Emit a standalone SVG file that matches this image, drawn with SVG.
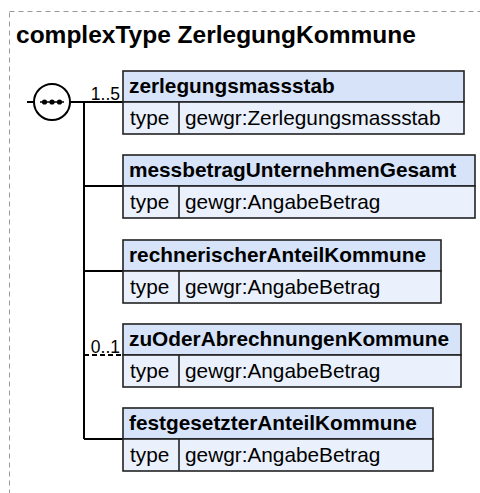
<svg xmlns="http://www.w3.org/2000/svg" width="480" height="493" viewBox="0 0 480 493">
<style>
  text { font-family: "Liberation Sans", Arial, sans-serif; fill: #000; }
  .title { font-size: 24.5px; font-weight: bold; }
  .hdr { fill: #d6e3f8; stroke: #222; stroke-width: 1.6; }
  .row { fill: #eaf1fc; stroke: #222; stroke-width: 1.6; }
  .name { font-size: 20.8px; font-weight: bold; }
  .val { font-size: 20.8px; }
  .card { font-size: 17.5px; }
  .conn { stroke: #000; stroke-width: 2; fill: none; }
  .opt { stroke-dasharray: 5 3; }
</style>
<rect x="9.5" y="11.5" width="500" height="520" fill="none" stroke="#999" stroke-width="1" stroke-dasharray="5 4"/>
<text class="title" x="16" y="43">complexType ZerlegungKommune</text>

<g id="connectors">
  <line class="conn" x1="27" y1="102" x2="34" y2="102"/>
  <line class="conn" x1="70" y1="102" x2="123" y2="102"/>
  <line class="conn" x1="84" y1="102" x2="84" y2="439"/>
  <line class="conn" x1="84" y1="186" x2="123" y2="186"/>
  <line class="conn" x1="84" y1="271" x2="123" y2="271"/>
  <line class="conn opt" x1="84" y1="355" x2="123" y2="355"/>
  <line class="conn" x1="84" y1="439" x2="123" y2="439"/>
  <text class="card" x="120" y="100" text-anchor="end">1..5</text>
  <text class="card" x="120" y="353" text-anchor="end">0..1</text>
</g>

<g id="sequence">
  <circle cx="52" cy="102" r="18" fill="#fff" stroke="#000" stroke-width="2"/>
  <line x1="40" y1="102" x2="64" y2="102" stroke="#000" stroke-width="1.5"/>
  <circle cx="44.5" cy="102" r="2.6" fill="#000"/>
  <circle cx="52" cy="102" r="2.6" fill="#000"/>
  <circle cx="59.5" cy="102" r="2.6" fill="#000"/>
</g>

<g id="zerlegungsmassstab">
  <rect class="hdr" x="123" y="71" width="341" height="31"/>
  <rect class="row" x="123" y="102" width="341" height="32"/>
  <line x1="179" y1="102" x2="179" y2="134" stroke="#222" stroke-width="1.6"/>
  <text class="name" x="129" y="93">zerlegungsmassstab</text>
  <text class="val" x="130" y="125">type</text>
  <text class="val" x="185" y="125">gewgr:Zerlegungsmassstab</text>
</g>

<g id="messbetragUnternehmenGesamt">
  <rect class="hdr" x="123" y="155" width="352" height="31"/>
  <rect class="row" x="123" y="186" width="352" height="32"/>
  <line x1="179" y1="186" x2="179" y2="218" stroke="#222" stroke-width="1.6"/>
  <text class="name" x="129" y="177">messbetragUnternehmenGesamt</text>
  <text class="val" x="130" y="209">type</text>
  <text class="val" x="185" y="209">gewgr:AngabeBetrag</text>
</g>

<g id="rechnerischerAnteilKommune">
  <rect class="hdr" x="123" y="240" width="318" height="31"/>
  <rect class="row" x="123" y="271" width="318" height="32"/>
  <line x1="179" y1="271" x2="179" y2="303" stroke="#222" stroke-width="1.6"/>
  <text class="name" x="129" y="262">rechnerischerAnteilKommune</text>
  <text class="val" x="130" y="294">type</text>
  <text class="val" x="185" y="294">gewgr:AngabeBetrag</text>
</g>

<g id="zuOderAbrechnungenKommune">
  <rect class="hdr" x="123" y="324" width="338" height="31"/>
  <rect class="row" x="123" y="355" width="338" height="32"/>
  <line x1="179" y1="355" x2="179" y2="387" stroke="#222" stroke-width="1.6"/>
  <text class="name" x="129" y="346">zuOderAbrechnungenKommune</text>
  <text class="val" x="130" y="378">type</text>
  <text class="val" x="185" y="378">gewgr:AngabeBetrag</text>
</g>

<g id="festgesetzterAnteilKommune">
  <rect class="hdr" x="123" y="408" width="310" height="31"/>
  <rect class="row" x="123" y="439" width="310" height="32"/>
  <line x1="179" y1="439" x2="179" y2="471" stroke="#222" stroke-width="1.6"/>
  <text class="name" x="129" y="430">festgesetzterAnteilKommune</text>
  <text class="val" x="130" y="462">type</text>
  <text class="val" x="185" y="462">gewgr:AngabeBetrag</text>
</g>
</svg>
